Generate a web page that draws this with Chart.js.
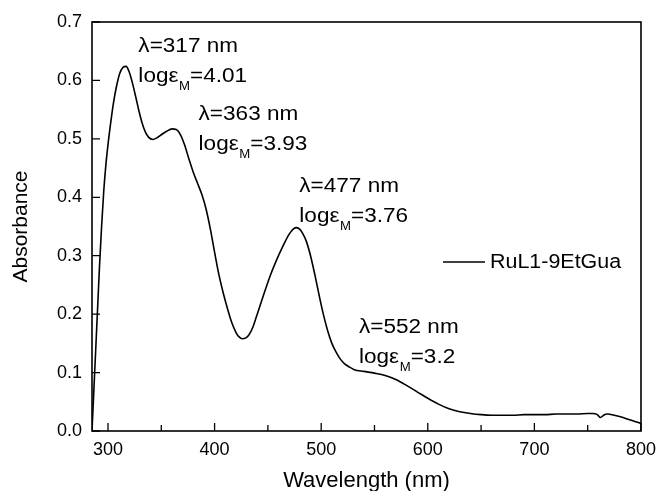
<!DOCTYPE html>
<html><head><meta charset="utf-8">
<script src="https://cdn.jsdelivr.net/npm/chart.js@4/dist/chart.umd.min.js"></script>
<style>html,body{margin:0;padding:0;background:#fff;}#wrap{width:664px;height:491px;position:relative;}</style>
</head><body><div id="wrap"><canvas id="c"></canvas></div>
<script>
// ---- data ----
const wavelength = [285,286,287.5,289,290.5,292,294,296,298,300,302,305,308,311,314,317,320,323,326,329,332,335,338,342,346,350,355,360,364,368,372,376,380,384,388,392,396,400,404,408,412,416,420,423,426,429,432,436,440,446,452,458,464,470,474,477,480,483,486,490,494,498,502,506,510,514,518,522,526,531,540,550,560,570,580,590,600,610,620,630,640,650,660,670,680,690,700,710,720,730,740,750,755,759,762,765,768,775,785,795,800];
const absorbance = [0.000,0.040,0.100,0.160,0.220,0.280,0.350,0.410,0.455,0.490,0.520,0.560,0.590,0.612,0.622,0.624,0.614,0.595,0.572,0.548,0.527,0.512,0.503,0.499,0.502,0.507,0.513,0.517,0.516,0.507,0.489,0.465,0.443,0.424,0.405,0.380,0.346,0.306,0.268,0.237,0.210,0.186,0.169,0.161,0.158,0.159,0.164,0.178,0.200,0.233,0.265,0.292,0.316,0.337,0.346,0.348,0.345,0.337,0.325,0.300,0.268,0.233,0.200,0.172,0.150,0.135,0.123,0.115,0.110,0.105,0.102,0.099,0.095,0.088,0.078,0.067,0.056,0.046,0.038,0.033,0.030,0.028,0.027,0.027,0.027,0.028,0.028,0.028,0.029,0.029,0.029,0.030,0.030,0.028,0.023,0.027,0.029,0.027,0.022,0.016,0.013];
const seriesLabel = 'RuL1-9EtGua';
const xTickValues = [300,400,500,600,700,800];
const xMinorTickValues = [350,450,550,650,750];
const yTickValues = [0,0.1,0.2,0.3,0.4,0.5,0.6,0.7];
const peakWavelengths = ['317','363','477','552'];
const peakLogEps = ['4.01','3.93','3.76','3.2'];
// annotation anchors (data coords: left edge, first-line baseline)
const annotationAnchors = [[328.5,0.648],[385,0.532],[479.5,0.409],[535.5,0.167]];

const FONT = "'Liberation Sans', Arial, sans-serif";
const SX = 1.1;

function stretchedText(ctx, txt, x, y, size){
  ctx.save();
  ctx.font = size + 'px ' + FONT;
  ctx.translate(x, y);
  ctx.scale(SX, 1);
  ctx.fillText(txt, 0, 0);
  const w = ctx.measureText(txt).width * SX;
  ctx.restore();
  return w;
}

const decor = {
  id: 'decor',
  afterDraw(chart){
    const {ctx, chartArea: a, scales: {x, y}} = chart;
    ctx.save();
    ctx.strokeStyle = '#000';
    ctx.lineWidth = 1.6;
    ctx.strokeRect(a.left, a.top, a.right - a.left, a.bottom - a.top);
    ctx.beginPath();
    xTickValues.forEach(v => { const p = x.getPixelForValue(v); ctx.moveTo(p, a.bottom); ctx.lineTo(p, a.bottom - 8); });
    xMinorTickValues.forEach(v => { const p = x.getPixelForValue(v); ctx.moveTo(p, a.bottom); ctx.lineTo(p, a.bottom - 6); });
    yTickValues.forEach(v => { const p = y.getPixelForValue(v); ctx.moveTo(a.left, p); ctx.lineTo(a.left + 8, p); });
    ctx.lineWidth = 1.3;
    ctx.stroke();

    ctx.fillStyle = '#000';
    ctx.textBaseline = 'alphabetic';
    ctx.textAlign = 'left';
    annotationAnchors.forEach((an, i) => {
      const px = x.getPixelForValue(an[0]);
      const py = y.getPixelForValue(an[1]);
      stretchedText(ctx, '\u03bb=' + peakWavelengths[i] + ' nm', px, py, 20.5);
      let cx = px;
      const py2 = py + 29.5;
      cx += stretchedText(ctx, 'log\u03b5', cx, py2, 20.5);
      cx += stretchedText(ctx, 'M', cx + 0.5, py2 + 8.5, 12) + 0.5;
      stretchedText(ctx, '=' + peakLogEps[i], cx, py2, 20.5);
    });

    // legend
    const ds = chart.data.datasets[0];
    ctx.beginPath();
    ctx.moveTo(443, 262); ctx.lineTo(485, 262);
    ctx.lineWidth = ds.borderWidth; ctx.strokeStyle = ds.borderColor;
    ctx.stroke();
    ctx.textBaseline = 'middle';
    stretchedText(ctx, ds.label, 490, 263, 19.5);
    ctx.restore();
  }
};

new Chart(document.getElementById('c'), {
  type: 'line',
  data: {
    datasets: [{
      label: seriesLabel,
      data: wavelength.map((w, i) => ({x: w, y: absorbance[i]})),
      borderColor: '#000',
      borderWidth: 1.6,
      pointRadius: 0,
      fill: false,
      cubicInterpolationMode: 'monotone'
    }]
  },
  options: {
    responsive: true,
    maintainAspectRatio: false,
    animation: false,
    layout: {padding: {top: 22, right: 16, left: 0, bottom: 0}},
    plugins: {legend: {display: false}, tooltip: {enabled: false}},
    scales: {
      x: {
        type: 'linear', min: 285, max: 800,
        afterBuildTicks: s => { s.ticks = xTickValues.map(v => ({value: v})); },
        afterFit: s => { s.height = 60; },
        grid: {display: false, drawTicks: false, tickLength: 0},
        border: {display: false},
        ticks: {color: '#000', font: {family: FONT, size: 18}, padding: 8, maxRotation: 0, autoSkip: false},
        title: {display: true, text: 'Wavelength (nm)', color: '#000', font: {family: FONT, size: 22, lineHeight: 1}, padding: {top: 0, bottom: -1}}
      },
      y: {
        min: 0, max: 0.7,
        afterBuildTicks: s => { s.ticks = yTickValues.map(v => ({value: v})); },
        afterFit: s => { s.width = 92; },
        grid: {display: false, drawTicks: false, tickLength: 0},
        border: {display: false},
        ticks: {color: '#000', font: {family: FONT, size: 18}, padding: 10, callback: v => Number(v).toFixed(1)},
        title: {display: true, text: 'Absorbance', color: '#000', font: {family: FONT, size: 21, lineHeight: 1}, padding: {top: 10.5, bottom: 0}}
      }
    }
  },
  plugins: [decor]
});
</script></body></html>
